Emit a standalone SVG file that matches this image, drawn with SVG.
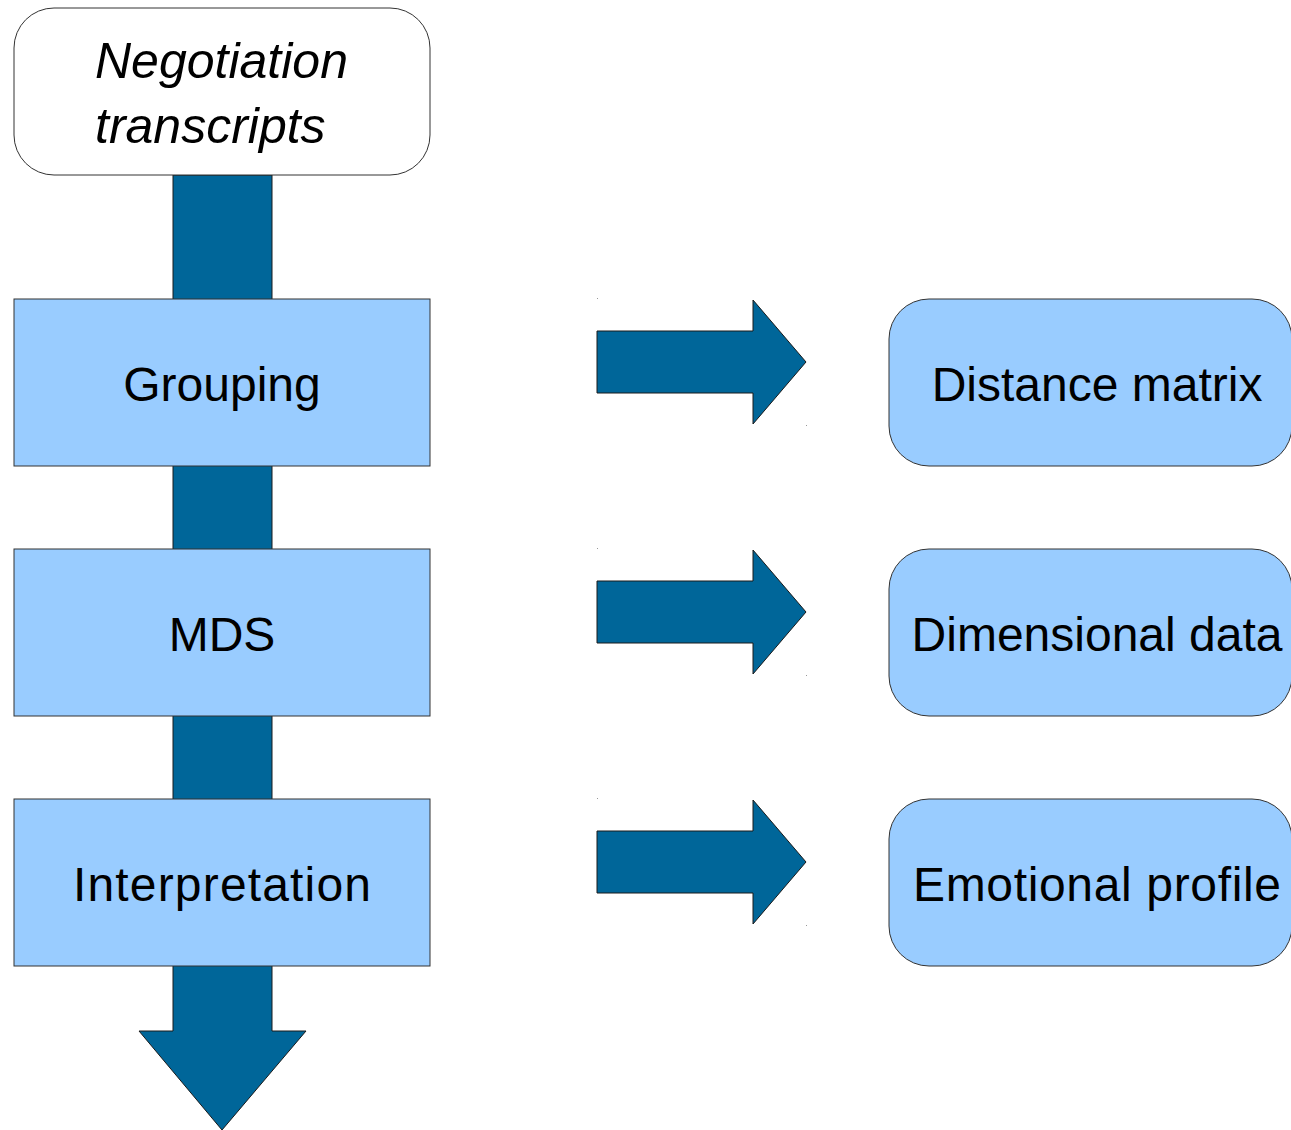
<svg xmlns="http://www.w3.org/2000/svg" width="1291" height="1130" viewBox="0 0 1291 1130">
  <style>
    .arrow { fill: #006699; stroke: #1a1a1a; stroke-width: 1; stroke-linejoin: miter; }
    .step { fill: #99ccff; stroke: #333333; stroke-width: 1; }
    .source { fill: #ffffff; stroke: #333333; stroke-width: 1; }
    .label { font-family: "Liberation Sans", Arial, sans-serif; font-size: 48px; fill: #000000; }
    .mid { text-anchor: middle; }
    .ital { font-style: italic; font-size: 50px; }
    .dot { fill: #999999; }
  </style>
  <rect width="1291" height="1130" fill="#ffffff"/>

  <!-- connectors: main flow shaft and the side result arrows -->
  <g id="connectors">
    <path class="arrow" d="M173,175 H272 V1031 H306 L222,1130 L139,1031 H173 Z"/>
    <g id="arrow-grouping">
      <path class="arrow" d="M597,331 H753 V300 L806,362 L753,424 V393 H597 Z"/>
      <rect class="dot" x="597" y="298" width="1" height="1"/>
      <rect class="dot" x="806" y="425" width="1" height="1"/>
    </g>
    <g id="arrow-mds">
      <path class="arrow" d="M597,581 H753 V550 L806,612 L753,674 V643 H597 Z"/>
      <rect class="dot" x="597" y="548" width="1" height="1"/>
      <rect class="dot" x="806" y="675" width="1" height="1"/>
    </g>
    <g id="arrow-interpretation">
      <path class="arrow" d="M597,831 H753 V800 L806,862 L753,924 V893 H597 Z"/>
      <rect class="dot" x="597" y="798" width="1" height="1"/>
      <rect class="dot" x="806" y="925" width="1" height="1"/>
    </g>
  </g>

  <g id="transcripts">
    <rect class="source" x="14" y="8" width="416" height="167" rx="40" ry="40"/>
    <text class="label ital" x="95" y="78">Negotiation</text>
    <text class="label ital" x="95" y="143">transcripts</text>
  </g>

  <g id="grouping">
    <rect class="step" x="14" y="299" width="416" height="167"/>
    <text class="label mid" x="222" y="401">Grouping</text>
  </g>

  <g id="mds">
    <rect class="step" x="14" y="549" width="416" height="167"/>
    <text class="label mid" x="222" y="651">MDS</text>
  </g>

  <g id="interpretation">
    <rect class="step" x="14" y="799" width="416" height="167"/>
    <text class="label mid" x="222" y="901" textLength="298" lengthAdjust="spacing">Interpretation</text>
  </g>

  <g id="distance-matrix">
    <rect class="step" x="889" y="299" width="403" height="167" rx="40" ry="40"/>
    <text class="label mid" x="1097" y="401">Distance matrix</text>
  </g>

  <g id="dimensional-data">
    <rect class="step" x="889" y="549" width="403" height="167" rx="40" ry="40"/>
    <text class="label mid" x="1097" y="651">Dimensional data</text>
  </g>

  <g id="emotional-profile">
    <rect class="step" x="889" y="799" width="403" height="167" rx="40" ry="40"/>
    <text class="label mid" x="1097" y="901" textLength="368" lengthAdjust="spacing">Emotional profile</text>
  </g>
</svg>
